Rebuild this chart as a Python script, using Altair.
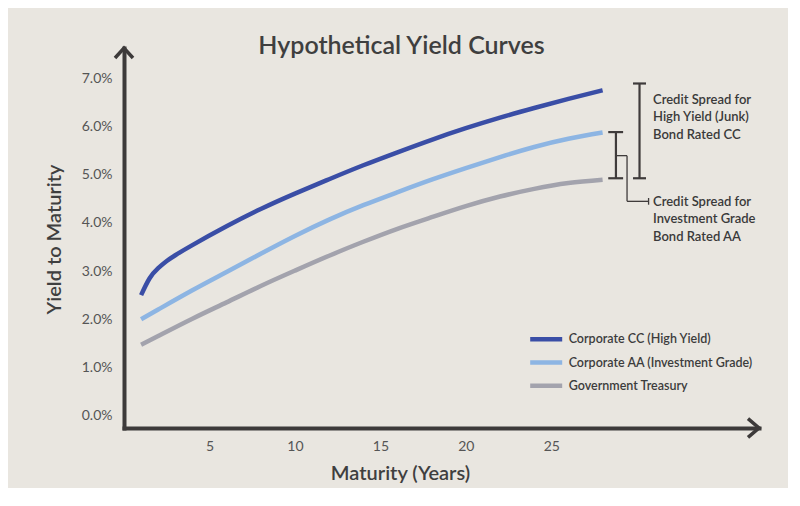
import altair as alt
import pandas as pd

# ---- data ----
series_names = ["Corporate CC (High Yield)", "Corporate AA (Investment Grade)", "Government Treasury"]
series_colors = ["#3a4ea6", "#8db5e3", "#a3a3ad"]

years_cc = [1, 1.5, 2, 2.5, 3, 4, 6, 8, 10, 12, 14, 16, 18, 20, 22, 24, 26, 28]
yield_cc = [2.50, 2.85, 3.06, 3.21, 3.33, 3.54, 3.93, 4.29, 4.61, 4.91, 5.20, 5.47, 5.73, 5.97, 6.19, 6.39, 6.58, 6.76]

years_aa = [1, 2, 4, 6, 8, 10, 12, 14, 16, 18, 20, 22, 24, 26, 28]
yield_aa = [2.00, 2.20, 2.60, 2.98, 3.36, 3.73, 4.07, 4.37, 4.64, 4.90, 5.14, 5.37, 5.58, 5.75, 5.88]

years_gov = [1, 2, 4, 6, 8, 10, 12, 14, 16, 18, 20, 22, 24, 26, 28]
yield_gov = [1.47, 1.65, 2.01, 2.35, 2.69, 3.01, 3.32, 3.61, 3.88, 4.12, 4.35, 4.55, 4.71, 4.83, 4.90]

x_ticks = [5, 10, 15, 20, 25]
y_ticks = [0, 1, 2, 3, 4, 5, 6, 7]

# bracket annotation (years, percent)
bracket_x = [30.16, 29.78, 29.78, 28.78, 28.33, 28.33]
bracket_x2 = [30.16, 30.54, 30.54, 28.78, 29.20, 29.20]
bracket_y = [4.93, 6.90, 4.93, 4.93, 5.89, 4.93]
bracket_y2 = [6.90, 6.90, 4.93, 5.89, 5.89, 4.93]

conn_x = [28.78, 29.43, 29.43, 30.69]
conn_x2 = [29.43, 29.43, 30.69, 30.69]
conn_y = [5.40, 5.40, 4.45, 4.38]
conn_y2 = [5.40, 4.45, 4.45, 4.52]

note_text = ["Credit Spread for\nHigh Yield (Junk)\nBond Rated CC",
             "Credit Spread for\nInvestment Grade\nBond Rated AA"]
note_x = [30.95, 30.95]
note_y = [6.563, 4.437]

X_DOMAIN = [0, 37.15]
Y_DOMAIN = [-0.262, 7.638]

# ---- tables ----
rows = []
for name, xs, ys in zip(series_names, [years_cc, years_aa, years_gov], [yield_cc, yield_aa, yield_gov]):
    for a, b in zip(xs, ys):
        rows.append({"series": name, "year": a, "yld": b})
curves = pd.DataFrame(rows)
brackets = pd.DataFrame({"x": bracket_x, "x2": bracket_x2, "y": bracket_y, "y2": bracket_y2})
conns = pd.DataFrame({"x": conn_x, "x2": conn_x2, "y": conn_y, "y2": conn_y2})
notes = pd.DataFrame({"x": note_x, "y": note_y, "t": note_text})
arrow_up = pd.DataFrame({"x": [X_DOMAIN[0]], "y": [Y_DOMAIN[1]]})
arrow_right = pd.DataFrame({"x": [X_DOMAIN[1]], "y": [Y_DOMAIN[0]]})

FONT = "Lato"
AXIS_COL = "#3d3a3a"

xscale = alt.Scale(domain=X_DOMAIN, nice=False, zero=False)
yscale = alt.Scale(domain=Y_DOMAIN, nice=False, zero=False)

x_enc = alt.X("year:Q", scale=xscale, axis=alt.Axis(
    values=x_ticks, grid=False, ticks=False, tickSize=0, labelPadding=11,
    labelFontSize=14, labelFont=FONT, labelColor="#555555",
    domain=True, domainColor=AXIS_COL, domainWidth=4, domainCap="square",
    title="Maturity (Years)", titleFont=FONT, titleFontSize=20, titleFontWeight=600,
    titleColor="#3f3f3f", titleX=276, titleY=45, titleBaseline="middle", titleAlign="center"))
y_enc = alt.Y("yld:Q", scale=yscale, axis=alt.Axis(
    values=y_ticks, grid=False, ticks=False, tickSize=0, labelPadding=12,
    labelExpr="format(datum.value, '.1f') + '%'",
    labelFontSize=14, labelFont=FONT, labelColor="#555555",
    domain=True, domainColor=AXIS_COL, domainWidth=4, domainCap="square",
    title="Yield to Maturity", titleFont=FONT, titleFontSize=20, titleFontWeight=600,
    titleColor="#3f3f3f", titleX=-70, titleY=191, titleBaseline="middle", titleAlign="center",
    titleAngle=270))

lines = alt.Chart(curves).mark_line(strokeWidth=4.5, interpolate="natural", strokeCap="butt").encode(
    x=x_enc, y=y_enc,
    color=alt.Color("series:N", scale=alt.Scale(domain=series_names, range=series_colors),
                    sort=series_names,
                    legend=alt.Legend(orient="none", legendX=409.7, legendY=278.7, title=None,
                                      symbolType="M-1.6,0L1.6,0", symbolStrokeWidth=4.5, symbolSize=400,
                                      labelFont=FONT, labelFontSize=12.5, labelFontWeight=600,
                                      labelColor="#3c3c3c", labelOffset=10, rowPadding=1.3,
                                      labelLimit=300)),
)

br = alt.Chart(brackets).mark_rule(strokeWidth=2.2, color="#3f3b3b").encode(
    x="x:Q", x2="x2", y="y:Q", y2="y2")
cn = alt.Chart(conns).mark_rule(strokeWidth=1.3, color="#3f3b3b").encode(
    x="x:Q", x2="x2", y="y:Q", y2="y2")
tx = alt.Chart(notes).mark_text(align="left", baseline="middle", lineBreak="\n", lineHeight=17.5,
                                font=FONT, fontSize=13, fontWeight=600, color="#3a3a3a").encode(
    x="x:Q", y="y:Q", text="t:N")

up = alt.Chart(arrow_up).mark_point(shape="M-0.9,1L0,0L0.9,1", filled=False, size=400,
                                    strokeWidth=3.5, color=AXIS_COL, opacity=1).encode(
    x="x:Q", y="y:Q")
right = alt.Chart(arrow_right).mark_point(shape="M-1,-0.85L0,0L-1,0.85", filled=False, size=484,
                                          strokeWidth=3.5, color=AXIS_COL, opacity=1).encode(
    x="x:Q", y="y:Q")

chart = alt.layer(lines, br, cn, tx, up, right).properties(
    width=635, height=380,
    autosize=alt.AutoSizeParams(type="none"),
    padding={"left": 116, "top": 40, "right": 29, "bottom": 60},
    background="#e9e6e0",
    title=alt.TitleParams("Hypothetical Yield Curves", font=FONT, fontSize=25, fontWeight=600,
                          color="#3f3f3f", anchor="middle", frame="group", offset=0,
                          baseline="alphabetic", dx=-40, dy=38),
).configure_view(stroke=None)

chart.save("out.html", embed_options={"renderer": "svg", "actions": False})
